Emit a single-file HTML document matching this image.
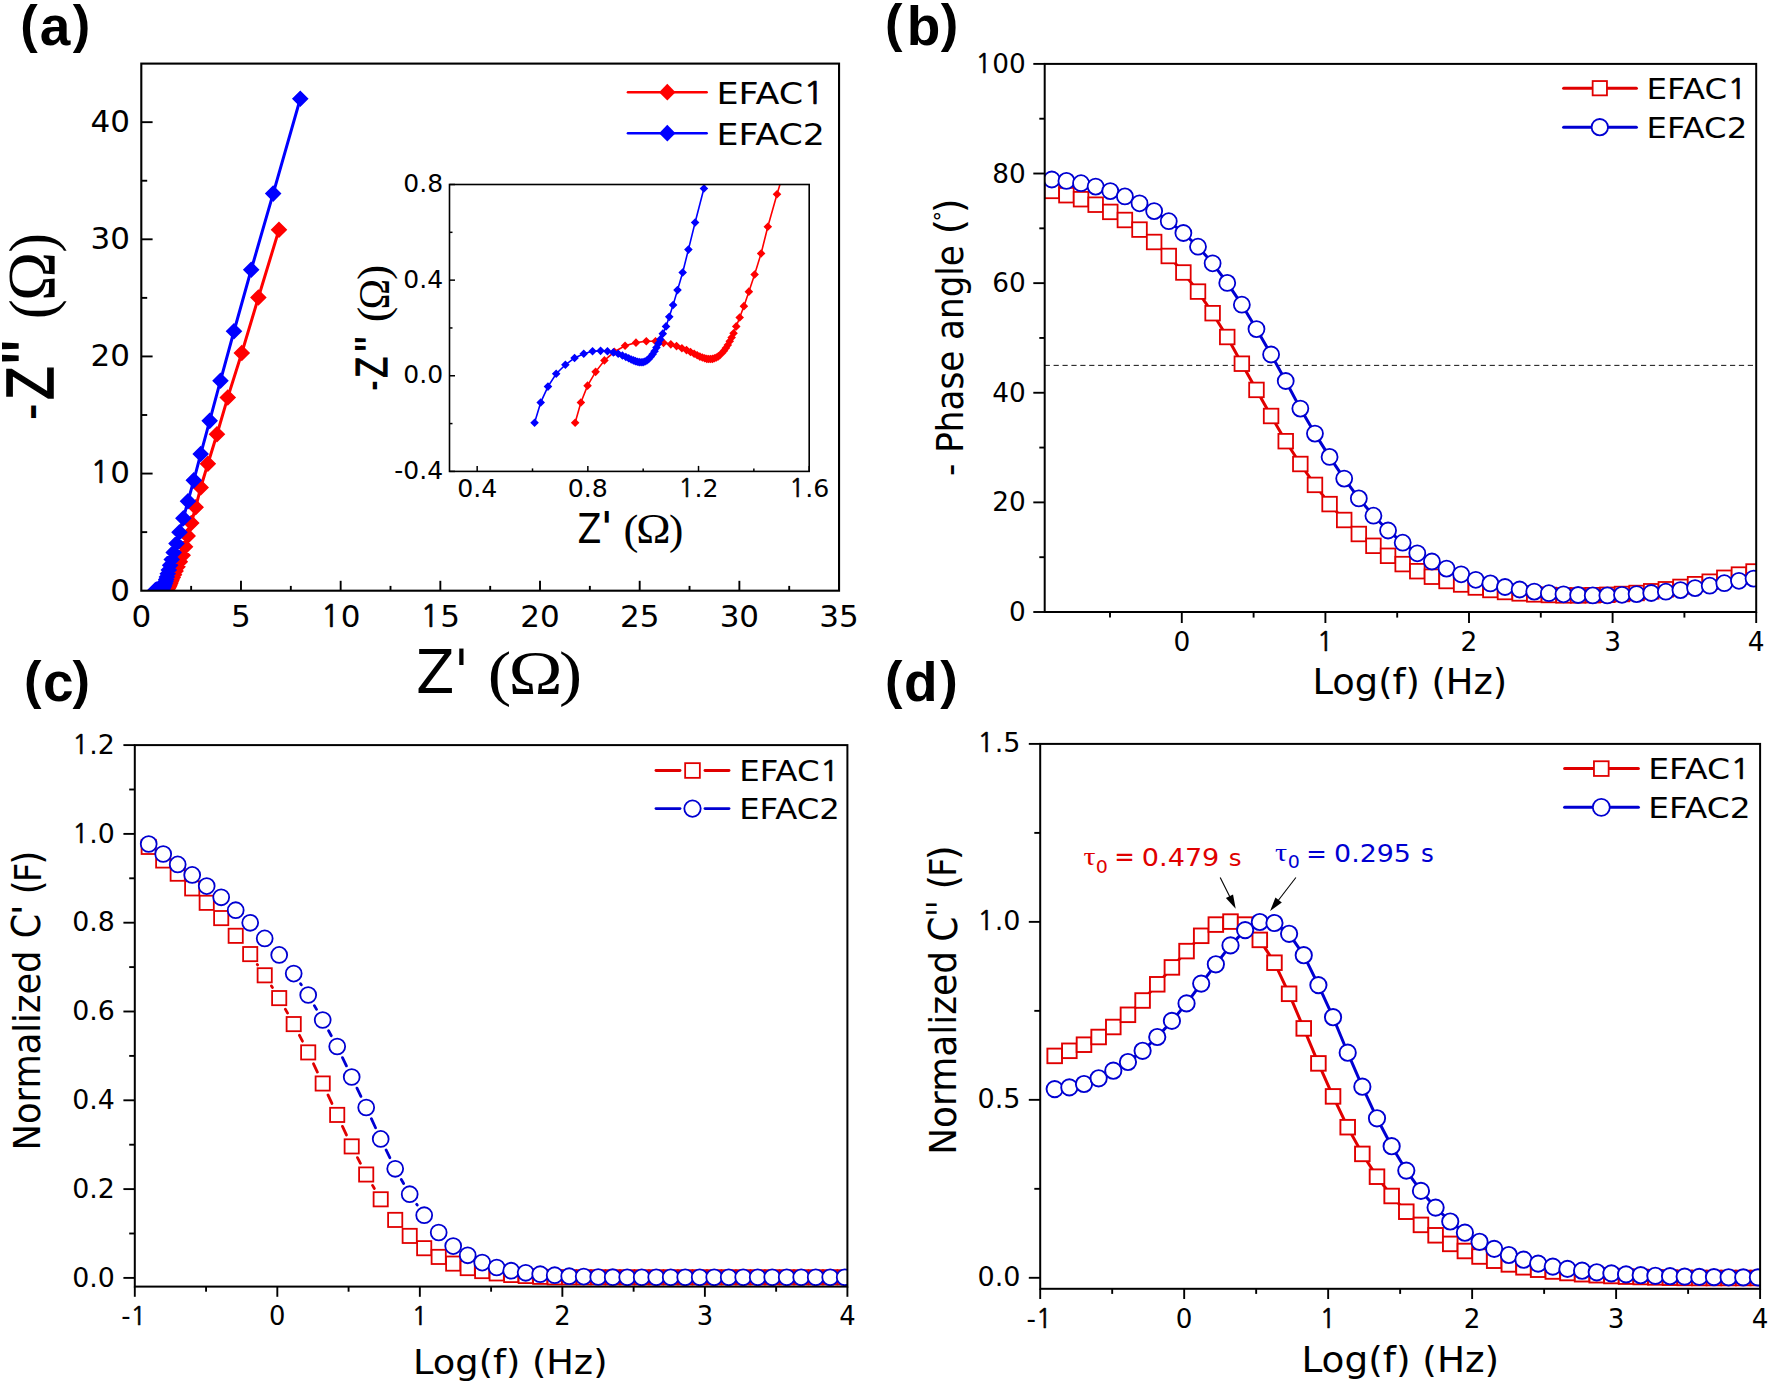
<!DOCTYPE html>
<html lang="en"><head><meta charset="utf-8"><title>EIS analysis of EFAC1 and EFAC2</title>
<style>html,body{margin:0;padding:0;background:#fff}svg{display:block}</style></head>
<body>
<svg width="1770" height="1386" viewBox="0 0 1770 1386" role="img" aria-label="Electrochemical impedance analysis of EFAC1 and EFAC2">
<rect width="1770" height="1386" fill="#fff"/>
<defs><clipPath id="ca"><rect x="141.3" y="63.6" width="697.75" height="527.1"/></clipPath><clipPath id="ci"><rect x="449.5" y="184.5" width="359.7" height="286.9"/></clipPath><clipPath id="cb"><rect x="1044.7" y="63.9" width="711.5" height="548.1"/></clipPath><clipPath id="cc"><rect x="134.8" y="745.1" width="712.6" height="541.5"/></clipPath><clipPath id="cd"><rect x="1040.2" y="743.9" width="719.9" height="544.9"/></clipPath></defs>
<!-- panel a -->
<g clip-path="url(#ca)">
<polyline fill="none" stroke="#ff0000" stroke-width="3" stroke-linejoin="round"  points="156.33,593 156.75,592.01 157.23,591.18 157.81,590.51 158.44,589.95 159.16,589.53 159.93,589.23 160.72,589.08 161.46,589.01 162.12,589.01 162.7,589.09 163.23,589.16 163.64,589.25 164.03,589.35 164.36,589.44 164.65,589.54 164.91,589.62 165.13,589.69 165.32,589.76 165.5,589.81 165.67,589.84 165.82,589.87 165.96,589.88 166.09,589.88 166.23,589.87 166.37,589.84 166.51,589.81 166.64,589.75 166.78,589.68 166.92,589.58 167.06,589.47 167.2,589.34 167.33,589.19 167.47,589.01 167.61,588.82 167.75,588.62 167.94,588.28 168.19,587.84 168.49,587.29 168.85,586.58 169.26,585.74 169.73,584.71 170.22,583.4 170.88,581.81 171.74,579.87 172.8,577.5 174.08,574.63 175.64,571.12 177.54,566.86 179.86,561.66 182.69,555.33 185.1,546.78 187.69,535.88 191.3,523 195.68,507.3 200.69,487.51 207.89,463.73 216.98,434.21 227.78,397.43 241.78,353.04 258.38,297.52 278.98,229.81"/>
<path d="M148.03 593L156.33 584.7L164.63 593L156.33 601.3ZM148.45 592.01L156.75 583.71L165.05 592.01L156.75 600.31ZM148.93 591.18L157.23 582.88L165.53 591.18L157.23 599.48ZM149.51 590.51L157.81 582.21L166.11 590.51L157.81 598.81ZM150.14 589.95L158.44 581.65L166.74 589.95L158.44 598.25ZM150.86 589.53L159.16 581.23L167.46 589.53L159.16 597.83ZM151.63 589.23L159.93 580.93L168.23 589.23L159.93 597.53ZM152.42 589.08L160.72 580.78L169.02 589.08L160.72 597.38ZM153.16 589.01L161.46 580.71L169.76 589.01L161.46 597.31ZM153.82 589.01L162.12 580.71L170.42 589.01L162.12 597.31ZM154.4 589.09L162.7 580.79L171 589.09L162.7 597.39ZM154.93 589.16L163.23 580.86L171.53 589.16L163.23 597.46ZM155.34 589.25L163.64 580.95L171.94 589.25L163.64 597.55ZM155.73 589.35L164.03 581.05L172.33 589.35L164.03 597.65ZM156.06 589.44L164.36 581.14L172.66 589.44L164.36 597.74ZM156.35 589.54L164.65 581.24L172.95 589.54L164.65 597.84ZM156.61 589.62L164.91 581.32L173.21 589.62L164.91 597.92ZM156.83 589.69L165.13 581.39L173.43 589.69L165.13 597.99ZM157.02 589.76L165.32 581.46L173.62 589.76L165.32 598.06ZM157.2 589.81L165.5 581.51L173.8 589.81L165.5 598.11ZM157.37 589.84L165.67 581.54L173.97 589.84L165.67 598.14ZM157.52 589.87L165.82 581.57L174.12 589.87L165.82 598.17ZM157.66 589.88L165.96 581.58L174.26 589.88L165.96 598.18ZM157.79 589.88L166.09 581.58L174.39 589.88L166.09 598.18ZM157.93 589.87L166.23 581.57L174.53 589.87L166.23 598.17ZM158.07 589.84L166.37 581.54L174.67 589.84L166.37 598.14ZM158.21 589.81L166.51 581.51L174.81 589.81L166.51 598.11ZM158.34 589.75L166.64 581.45L174.94 589.75L166.64 598.05ZM158.48 589.68L166.78 581.38L175.08 589.68L166.78 597.98ZM158.62 589.58L166.92 581.28L175.22 589.58L166.92 597.88ZM158.76 589.47L167.06 581.17L175.36 589.47L167.06 597.77ZM158.9 589.34L167.2 581.04L175.5 589.34L167.2 597.64ZM159.03 589.19L167.33 580.89L175.63 589.19L167.33 597.49ZM159.17 589.01L167.47 580.71L175.77 589.01L167.47 597.31ZM159.31 588.82L167.61 580.52L175.91 588.82L167.61 597.12ZM159.45 588.62L167.75 580.32L176.05 588.62L167.75 596.92ZM159.64 588.28L167.94 579.98L176.24 588.28L167.94 596.58ZM159.89 587.84L168.19 579.54L176.49 587.84L168.19 596.14ZM160.19 587.29L168.49 578.99L176.79 587.29L168.49 595.59ZM160.55 586.58L168.85 578.28L177.15 586.58L168.85 594.88ZM160.96 585.74L169.26 577.44L177.56 585.74L169.26 594.04ZM161.43 584.71L169.73 576.41L178.03 584.71L169.73 593.01ZM161.92 583.4L170.22 575.1L178.52 583.4L170.22 591.7ZM162.58 581.81L170.88 573.51L179.18 581.81L170.88 590.11ZM163.44 579.87L171.74 571.57L180.04 579.87L171.74 588.17ZM164.5 577.5L172.8 569.2L181.1 577.5L172.8 585.8ZM165.78 574.63L174.08 566.33L182.38 574.63L174.08 582.93ZM167.34 571.12L175.64 562.82L183.94 571.12L175.64 579.42ZM169.24 566.86L177.54 558.56L185.84 566.86L177.54 575.16ZM171.56 561.66L179.86 553.36L188.16 561.66L179.86 569.96ZM174.39 555.33L182.69 547.03L190.99 555.33L182.69 563.63ZM176.8 546.78L185.1 538.48L193.4 546.78L185.1 555.08ZM179.39 535.88L187.69 527.58L195.99 535.88L187.69 544.18ZM183 523L191.3 514.7L199.6 523L191.3 531.3ZM187.38 507.3L195.68 499L203.98 507.3L195.68 515.6ZM192.39 487.51L200.69 479.21L208.99 487.51L200.69 495.81ZM199.59 463.73L207.89 455.43L216.19 463.73L207.89 472.03ZM208.68 434.21L216.98 425.91L225.28 434.21L216.98 442.51ZM219.48 397.43L227.78 389.13L236.08 397.43L227.78 405.73ZM233.48 353.04L241.78 344.74L250.08 353.04L241.78 361.34ZM250.08 297.52L258.38 289.22L266.68 297.52L258.38 305.82ZM270.68 229.81L278.98 221.51L287.28 229.81L278.98 238.11Z" fill="#ff0000"/>
<polyline fill="none" stroke="#0000ff" stroke-width="3" stroke-linejoin="round"  points="153.41,593 153.85,592.01 154.38,591.23 154.97,590.6 155.63,590.16 156.29,589.83 156.95,589.62 157.59,589.5 158.17,589.48 158.66,589.5 159.09,589.55 159.43,589.62 159.74,589.7 159.99,589.78 160.19,589.84 160.37,589.9 160.54,589.95 160.68,589.99 160.81,590.01 160.95,590.03 161.09,590.04 161.23,590.03 161.36,590 161.5,589.95 161.64,589.87 161.78,589.77 161.92,589.65 162.05,589.5 162.19,589.32 162.33,589.12 162.47,588.92 162.65,588.64 162.88,588.28 163.12,587.81 163.39,587.23 163.71,586.5 164.08,585.64 164.49,584.52 164.98,583.19 165.61,581.52 166.19,579.45 166.89,576.9 167.76,573.77 168.83,569.94 170.13,565.24 171.73,559.47 173.7,552.4 176.49,543.5 179.5,532.25 183.38,518.19 187.99,501.21 193.79,480.36 200.69,454.01 209.68,420.86 220.48,380.68 233.98,331.25 251.19,269.75 273.17,193.62 300.27,98.74"/>
<path d="M145.11 593L153.41 584.7L161.71 593L153.41 601.3ZM145.55 592.01L153.85 583.71L162.15 592.01L153.85 600.31ZM146.08 591.23L154.38 582.93L162.68 591.23L154.38 599.53ZM146.67 590.6L154.97 582.3L163.27 590.6L154.97 598.9ZM147.33 590.16L155.63 581.86L163.93 590.16L155.63 598.46ZM147.99 589.83L156.29 581.53L164.59 589.83L156.29 598.13ZM148.65 589.62L156.95 581.32L165.25 589.62L156.95 597.92ZM149.29 589.5L157.59 581.2L165.89 589.5L157.59 597.8ZM149.87 589.48L158.17 581.18L166.47 589.48L158.17 597.78ZM150.36 589.5L158.66 581.2L166.96 589.5L158.66 597.8ZM150.79 589.55L159.09 581.25L167.39 589.55L159.09 597.85ZM151.13 589.62L159.43 581.32L167.73 589.62L159.43 597.92ZM151.44 589.7L159.74 581.4L168.04 589.7L159.74 598ZM151.69 589.78L159.99 581.48L168.29 589.78L159.99 598.08ZM151.89 589.84L160.19 581.54L168.49 589.84L160.19 598.14ZM152.07 589.9L160.37 581.6L168.67 589.9L160.37 598.2ZM152.24 589.95L160.54 581.65L168.84 589.95L160.54 598.25ZM152.38 589.99L160.68 581.69L168.98 589.99L160.68 598.29ZM152.51 590.01L160.81 581.71L169.11 590.01L160.81 598.31ZM152.65 590.03L160.95 581.73L169.25 590.03L160.95 598.33ZM152.79 590.04L161.09 581.74L169.39 590.04L161.09 598.34ZM152.93 590.03L161.23 581.73L169.53 590.03L161.23 598.33ZM153.06 590L161.36 581.7L169.66 590L161.36 598.3ZM153.2 589.95L161.5 581.65L169.8 589.95L161.5 598.25ZM153.34 589.87L161.64 581.57L169.94 589.87L161.64 598.17ZM153.48 589.77L161.78 581.47L170.08 589.77L161.78 598.07ZM153.62 589.65L161.92 581.35L170.22 589.65L161.92 597.95ZM153.75 589.5L162.05 581.2L170.35 589.5L162.05 597.8ZM153.89 589.32L162.19 581.02L170.49 589.32L162.19 597.62ZM154.03 589.12L162.33 580.82L170.63 589.12L162.33 597.42ZM154.17 588.92L162.47 580.62L170.77 588.92L162.47 597.22ZM154.35 588.64L162.65 580.34L170.95 588.64L162.65 596.94ZM154.58 588.28L162.88 579.98L171.18 588.28L162.88 596.58ZM154.82 587.81L163.12 579.51L171.42 587.81L163.12 596.11ZM155.09 587.23L163.39 578.93L171.69 587.23L163.39 595.53ZM155.41 586.5L163.71 578.2L172.01 586.5L163.71 594.8ZM155.78 585.64L164.08 577.34L172.38 585.64L164.08 593.94ZM156.19 584.52L164.49 576.22L172.79 584.52L164.49 592.82ZM156.68 583.19L164.98 574.89L173.28 583.19L164.98 591.49ZM157.31 581.52L165.61 573.22L173.91 581.52L165.61 589.82ZM157.89 579.45L166.19 571.15L174.49 579.45L166.19 587.75ZM158.59 576.9L166.89 568.6L175.19 576.9L166.89 585.2ZM159.46 573.77L167.76 565.47L176.06 573.77L167.76 582.07ZM160.53 569.94L168.83 561.64L177.13 569.94L168.83 578.24ZM161.83 565.24L170.13 556.94L178.43 565.24L170.13 573.54ZM163.43 559.47L171.73 551.17L180.03 559.47L171.73 567.77ZM165.4 552.4L173.7 544.1L182 552.4L173.7 560.7ZM168.19 543.5L176.49 535.2L184.79 543.5L176.49 551.8ZM171.2 532.25L179.5 523.95L187.8 532.25L179.5 540.55ZM175.08 518.19L183.38 509.89L191.68 518.19L183.38 526.49ZM179.69 501.21L187.99 492.91L196.29 501.21L187.99 509.51ZM185.49 480.36L193.79 472.06L202.09 480.36L193.79 488.66ZM192.39 454.01L200.69 445.71L208.99 454.01L200.69 462.31ZM201.38 420.86L209.68 412.56L217.98 420.86L209.68 429.16ZM212.18 380.68L220.48 372.38L228.78 380.68L220.48 388.98ZM225.68 331.25L233.98 322.95L242.28 331.25L233.98 339.55ZM242.89 269.75L251.19 261.45L259.49 269.75L251.19 278.05ZM264.87 193.62L273.17 185.32L281.47 193.62L273.17 201.92ZM291.97 98.74L300.27 90.44L308.57 98.74L300.27 107.04Z" fill="#0000ff"/>
</g>
<line x1="240.98" y1="590.7" x2="240.98" y2="580.8" stroke="#000" stroke-width="1.9" />
<line x1="340.66" y1="590.7" x2="340.66" y2="580.8" stroke="#000" stroke-width="1.9" />
<line x1="440.34" y1="590.7" x2="440.34" y2="580.8" stroke="#000" stroke-width="1.9" />
<line x1="540.01" y1="590.7" x2="540.01" y2="580.8" stroke="#000" stroke-width="1.9" />
<line x1="639.69" y1="590.7" x2="639.69" y2="580.8" stroke="#000" stroke-width="1.9" />
<line x1="739.37" y1="590.7" x2="739.37" y2="580.8" stroke="#000" stroke-width="1.9" />
<line x1="191.14" y1="590.7" x2="191.14" y2="585.9" stroke="#000" stroke-width="1.9" />
<line x1="290.82" y1="590.7" x2="290.82" y2="585.9" stroke="#000" stroke-width="1.9" />
<line x1="390.5" y1="590.7" x2="390.5" y2="585.9" stroke="#000" stroke-width="1.9" />
<line x1="490.18" y1="590.7" x2="490.18" y2="585.9" stroke="#000" stroke-width="1.9" />
<line x1="589.85" y1="590.7" x2="589.85" y2="585.9" stroke="#000" stroke-width="1.9" />
<line x1="689.53" y1="590.7" x2="689.53" y2="585.9" stroke="#000" stroke-width="1.9" />
<line x1="789.21" y1="590.7" x2="789.21" y2="585.9" stroke="#000" stroke-width="1.9" />
<line x1="141.3" y1="473.57" x2="152.6" y2="473.57" stroke="#000" stroke-width="1.9" />
<line x1="141.3" y1="356.43" x2="152.6" y2="356.43" stroke="#000" stroke-width="1.9" />
<line x1="141.3" y1="239.3" x2="152.6" y2="239.3" stroke="#000" stroke-width="1.9" />
<line x1="141.3" y1="122.17" x2="152.6" y2="122.17" stroke="#000" stroke-width="1.9" />
<line x1="141.3" y1="532.13" x2="147.2" y2="532.13" stroke="#000" stroke-width="1.9" />
<line x1="141.3" y1="415" x2="147.2" y2="415" stroke="#000" stroke-width="1.9" />
<line x1="141.3" y1="297.87" x2="147.2" y2="297.87" stroke="#000" stroke-width="1.9" />
<line x1="141.3" y1="180.73" x2="147.2" y2="180.73" stroke="#000" stroke-width="1.9" />
<rect x="141.3" y="63.6" width="697.75" height="527.1" fill="none" stroke="#000" stroke-width="2.1"/>
<text y="626.8" font-family='"DejaVu Sans", "Liberation Sans", sans-serif' font-size="31" fill="#000"><tspan x="131.44">0</tspan></text>
<text y="626.8" font-family='"DejaVu Sans", "Liberation Sans", sans-serif' font-size="31" fill="#000"><tspan x="231.12">5</tspan></text>
<text y="626.8" font-family='"DejaVu Sans", "Liberation Sans", sans-serif' font-size="31" fill="#000"><tspan font-family="NanumGothic, &quot;DejaVu Sans&quot;, sans-serif" stroke="#000" stroke-width="0.022em" x="320.94">1</tspan><tspan x="340.66">0</tspan></text>
<text y="626.8" font-family='"DejaVu Sans", "Liberation Sans", sans-serif' font-size="31" fill="#000"><tspan font-family="NanumGothic, &quot;DejaVu Sans&quot;, sans-serif" stroke="#000" stroke-width="0.022em" x="420.62">1</tspan><tspan x="440.34">5</tspan></text>
<text y="626.8" font-family='"DejaVu Sans", "Liberation Sans", sans-serif' font-size="31" fill="#000"><tspan x="520.3">2</tspan><tspan x="540.01">0</tspan></text>
<text y="626.8" font-family='"DejaVu Sans", "Liberation Sans", sans-serif' font-size="31" fill="#000"><tspan x="619.98">2</tspan><tspan x="639.69">5</tspan></text>
<text y="626.8" font-family='"DejaVu Sans", "Liberation Sans", sans-serif' font-size="31" fill="#000"><tspan x="719.66">3</tspan><tspan x="739.37">0</tspan></text>
<text y="626.8" font-family='"DejaVu Sans", "Liberation Sans", sans-serif' font-size="31" fill="#000"><tspan x="819.33">3</tspan><tspan x="839.05">5</tspan></text>
<text y="600.6" font-family='"DejaVu Sans", "Liberation Sans", sans-serif' font-size="31" fill="#000"><tspan x="110.18">0</tspan></text>
<text y="483.47" font-family='"DejaVu Sans", "Liberation Sans", sans-serif' font-size="31" fill="#000"><tspan font-family="NanumGothic, &quot;DejaVu Sans&quot;, sans-serif" stroke="#000" stroke-width="0.022em" x="90.47">1</tspan><tspan x="110.18">0</tspan></text>
<text y="366.33" font-family='"DejaVu Sans", "Liberation Sans", sans-serif' font-size="31" fill="#000"><tspan x="90.47">2</tspan><tspan x="110.18">0</tspan></text>
<text y="249.2" font-family='"DejaVu Sans", "Liberation Sans", sans-serif' font-size="31" fill="#000"><tspan x="90.47">3</tspan><tspan x="110.18">0</tspan></text>
<text y="132.07" font-family='"DejaVu Sans", "Liberation Sans", sans-serif' font-size="31" fill="#000"><tspan x="90.47">4</tspan><tspan x="110.18">0</tspan></text>
<line x1="628" y1="92.2" x2="706.6" y2="92.2" stroke="#ff0000" stroke-width="2.6" stroke-linecap="round"/>
<path d="M659.1 92.2L667.3 83.8L675.5 92.2L667.3 100.6Z" fill="#ff0000"/>
<text transform="translate(716.5 103.6) scale(1.1364 1)" font-family='"DejaVu Sans", "Liberation Sans", sans-serif' font-size="30.8" fill="#000" xml:space="preserve">EFAC<tspan font-family="NanumGothic, &quot;DejaVu Sans&quot;, sans-serif" stroke="#000" stroke-width="0.022em">1</tspan></text>
<line x1="628" y1="133.2" x2="706.6" y2="133.2" stroke="#0000ff" stroke-width="2.6" stroke-linecap="round"/>
<path d="M659.1 133.2L667.3 124.8L675.5 133.2L667.3 141.6Z" fill="#0000ff"/>
<text transform="translate(716.52 144.7) scale(1.1294 1)" font-family='"DejaVu Sans", "Liberation Sans", sans-serif' font-size="30.8" fill="#000" xml:space="preserve">EFAC2</text>
<text transform="translate(416.07 693.4) scale(0.9294 1)" font-family='"DejaVu Sans", "Liberation Sans", sans-serif' font-size="60.4" fill="#000" xml:space="preserve">Z</text>
<text transform="translate(454.28 692.6) scale(0.8570 1)" font-family='"DejaVu Sans", "Liberation Sans", sans-serif' font-size="60.4" fill="#000" xml:space="preserve">'</text>
<text transform="translate(487.82 694.2) scale(1.1478 1)" font-family='"Liberation Serif", "DejaVu Serif", serif' font-size="61.5" fill="#000" xml:space="preserve">(</text>
<text transform="translate(508.56 693.4) scale(1.1801 1)" font-family='"Liberation Serif", "DejaVu Serif", serif' font-size="61.7" fill="#000" xml:space="preserve">Ω</text>
<text transform="translate(558.92 694.2) scale(1.1257 1)" font-family='"Liberation Serif", "DejaVu Serif", serif' font-size="61.5" fill="#000" xml:space="preserve">)</text>
<text transform="translate(43.8 419.98) rotate(-90) scale(1.2052 1)" font-family='"Liberation Sans", "DejaVu Sans", sans-serif' font-size="41" fill="#000" font-weight="bold"  xml:space="preserve">-</text>
<text transform="translate(52.6 399.64) rotate(-90) scale(0.8141 1)" font-family='"Liberation Sans", "DejaVu Sans", sans-serif' font-size="67" fill="#000" stroke="#000" stroke-width="1.6" stroke-linejoin="miter" xml:space="preserve">Z</text>
<text transform="translate(48.2 364.19) rotate(-90) scale(0.7699 1)" font-family='"Liberation Sans", "DejaVu Sans", sans-serif' font-size="66" fill="#000" font-weight="bold"  xml:space="preserve">''</text>
<text transform="translate(52.6 318.95) rotate(-90) scale(0.9163 1)" font-family='"Liberation Serif", "DejaVu Serif", serif' font-size="64.2" fill="#000"  xml:space="preserve">(</text>
<text transform="translate(54.4 300.9) rotate(-90) scale(0.9720 1)" font-family='"Liberation Serif", "DejaVu Serif", serif' font-size="68" fill="#000"  xml:space="preserve">Ω</text>
<text transform="translate(52.6 252.44) rotate(-90) scale(0.9046 1)" font-family='"Liberation Serif", "DejaVu Serif", serif' font-size="64.2" fill="#000"  xml:space="preserve">)</text>
<text x="20.27" y="41.6" font-family='"Liberation Sans", "DejaVu Sans", sans-serif' font-size="52.5" text-anchor="start" fill="#000" font-weight="bold" >(</text>
<text x="39.85" y="45" font-family='"Liberation Sans", "DejaVu Sans", sans-serif' font-size="55" text-anchor="start" fill="#000" font-weight="bold" >a</text>
<text x="72.64" y="41.6" font-family='"Liberation Sans", "DejaVu Sans", sans-serif' font-size="52.5" text-anchor="start" fill="#000" font-weight="bold" >)</text>
<g clip-path="url(#ci)">
<polyline fill="none" stroke="#ff0000" stroke-width="1.6" stroke-linejoin="round"  points="575.14,422.69 580.88,402.44 587.57,385.63 595.61,371.87 604.41,360.41 614.36,351.81 625.08,345.7 635.98,342.64 646.31,341.31 655.5,341.31 663.53,342.83 670.81,344.36 676.55,346.08 681.9,348.18 686.5,350.09 690.51,352 694.15,353.72 697.21,355.25 699.89,356.59 702.38,357.54 704.67,358.31 706.78,358.88 708.69,359.07 710.6,359.07 712.52,358.88 714.43,358.31 716.34,357.54 718.26,356.4 720.17,354.87 722.08,352.96 724,350.67 725.91,347.99 727.82,344.94 729.74,341.31 731.65,337.49 733.56,333.28 736.24,326.41 739.69,317.43 743.9,306.16 748.87,291.64 754.61,274.44 761.12,253.43 767.81,226.69 777,194.21 789,154.63 803.62,106.42 821.43,47.7"/>
<path d="M570.84 422.69L575.14 418.39L579.44 422.69L575.14 426.99ZM576.58 402.44L580.88 398.14L585.18 402.44L580.88 406.74ZM583.27 385.63L587.57 381.33L591.87 385.63L587.57 389.93ZM591.31 371.87L595.61 367.57L599.91 371.87L595.61 376.17ZM600.11 360.41L604.41 356.11L608.71 360.41L604.41 364.71ZM610.06 351.81L614.36 347.51L618.66 351.81L614.36 356.11ZM620.78 345.7L625.08 341.4L629.38 345.7L625.08 350ZM631.68 342.64L635.98 338.34L640.28 342.64L635.98 346.94ZM642.01 341.31L646.31 337.01L650.61 341.31L646.31 345.61ZM651.2 341.31L655.5 337.01L659.8 341.31L655.5 345.61ZM659.23 342.83L663.53 338.53L667.83 342.83L663.53 347.13ZM666.51 344.36L670.81 340.06L675.11 344.36L670.81 348.66ZM672.25 346.08L676.55 341.78L680.85 346.08L676.55 350.38ZM677.6 348.18L681.9 343.88L686.2 348.18L681.9 352.48ZM682.2 350.09L686.5 345.79L690.8 350.09L686.5 354.39ZM686.21 352L690.51 347.7L694.81 352L690.51 356.3ZM689.85 353.72L694.15 349.42L698.45 353.72L694.15 358.02ZM692.91 355.25L697.21 350.95L701.51 355.25L697.21 359.55ZM695.59 356.59L699.89 352.29L704.19 356.59L699.89 360.89ZM698.08 357.54L702.38 353.24L706.68 357.54L702.38 361.84ZM700.37 358.31L704.67 354.01L708.97 358.31L704.67 362.61ZM702.48 358.88L706.78 354.58L711.08 358.88L706.78 363.18ZM704.39 359.07L708.69 354.77L712.99 359.07L708.69 363.37ZM706.3 359.07L710.6 354.77L714.9 359.07L710.6 363.37ZM708.22 358.88L712.52 354.58L716.82 358.88L712.52 363.18ZM710.13 358.31L714.43 354.01L718.73 358.31L714.43 362.61ZM712.04 357.54L716.34 353.24L720.64 357.54L716.34 361.84ZM713.96 356.4L718.26 352.1L722.56 356.4L718.26 360.7ZM715.87 354.87L720.17 350.57L724.47 354.87L720.17 359.17ZM717.78 352.96L722.08 348.66L726.38 352.96L722.08 357.26ZM719.7 350.67L724 346.37L728.3 350.67L724 354.97ZM721.61 347.99L725.91 343.69L730.21 347.99L725.91 352.29ZM723.52 344.94L727.82 340.64L732.12 344.94L727.82 349.24ZM725.44 341.31L729.74 337.01L734.04 341.31L729.74 345.61ZM727.35 337.49L731.65 333.19L735.95 337.49L731.65 341.79ZM729.26 333.28L733.56 328.98L737.86 333.28L733.56 337.58ZM731.94 326.41L736.24 322.11L740.54 326.41L736.24 330.71ZM735.39 317.43L739.69 313.13L743.99 317.43L739.69 321.73ZM739.6 306.16L743.9 301.86L748.2 306.16L743.9 310.46ZM744.57 291.64L748.87 287.34L753.17 291.64L748.87 295.94ZM750.31 274.44L754.61 270.14L758.91 274.44L754.61 278.74ZM756.82 253.43L761.12 249.13L765.42 253.43L761.12 257.73ZM763.51 226.69L767.81 222.39L772.11 226.69L767.81 230.99ZM772.7 194.21L777 189.91L781.3 194.21L777 198.51ZM784.7 154.63L789 150.33L793.3 154.63L789 158.93ZM799.32 106.42L803.62 102.12L807.92 106.42L803.62 110.72ZM817.13 47.7L821.43 43.4L825.73 47.7L821.43 52Z" fill="#ff0000"/>
<polyline fill="none" stroke="#0000ff" stroke-width="1.6" stroke-linejoin="round"  points="534.57,422.69 540.7,402.44 547.97,386.58 556.19,373.78 565.38,364.8 574.56,357.93 583.75,353.72 592.55,351.24 600.58,350.86 607.47,351.24 613.4,352.39 618.19,353.72 622.4,355.44 625.84,356.97 628.71,358.31 631.2,359.45 633.49,360.41 635.41,361.17 637.32,361.75 639.23,362.13 641.15,362.32 643.06,362.13 644.97,361.56 646.89,360.41 648.8,358.88 650.71,356.78 652.63,354.3 654.54,351.24 656.46,347.61 658.37,343.6 660.28,339.4 662.77,333.66 666.02,326.41 669.27,316.85 673.1,305.01 677.5,290.11 682.67,272.53 688.41,249.61 695.11,222.48 703.91,188.48 711.91,146.07 721.73,94.05 733.77,30.25"/>
<path d="M530.27 422.69L534.57 418.39L538.87 422.69L534.57 426.99ZM536.4 402.44L540.7 398.14L545 402.44L540.7 406.74ZM543.67 386.58L547.97 382.28L552.27 386.58L547.97 390.88ZM551.89 373.78L556.19 369.48L560.49 373.78L556.19 378.08ZM561.08 364.8L565.38 360.5L569.68 364.8L565.38 369.1ZM570.26 357.93L574.56 353.63L578.86 357.93L574.56 362.23ZM579.45 353.72L583.75 349.42L588.05 353.72L583.75 358.02ZM588.25 351.24L592.55 346.94L596.85 351.24L592.55 355.54ZM596.28 350.86L600.58 346.56L604.88 350.86L600.58 355.16ZM603.17 351.24L607.47 346.94L611.77 351.24L607.47 355.54ZM609.1 352.39L613.4 348.09L617.7 352.39L613.4 356.69ZM613.89 353.72L618.19 349.42L622.49 353.72L618.19 358.02ZM618.1 355.44L622.4 351.14L626.7 355.44L622.4 359.74ZM621.54 356.97L625.84 352.67L630.14 356.97L625.84 361.27ZM624.41 358.31L628.71 354.01L633.01 358.31L628.71 362.61ZM626.9 359.45L631.2 355.15L635.5 359.45L631.2 363.75ZM629.19 360.41L633.49 356.11L637.79 360.41L633.49 364.71ZM631.11 361.17L635.41 356.87L639.71 361.17L635.41 365.47ZM633.02 361.75L637.32 357.45L641.62 361.75L637.32 366.05ZM634.93 362.13L639.23 357.83L643.53 362.13L639.23 366.43ZM636.85 362.32L641.15 358.02L645.45 362.32L641.15 366.62ZM638.76 362.13L643.06 357.83L647.36 362.13L643.06 366.43ZM640.67 361.56L644.97 357.26L649.27 361.56L644.97 365.86ZM642.59 360.41L646.89 356.11L651.19 360.41L646.89 364.71ZM644.5 358.88L648.8 354.58L653.1 358.88L648.8 363.18ZM646.41 356.78L650.71 352.48L655.01 356.78L650.71 361.08ZM648.33 354.3L652.63 350L656.93 354.3L652.63 358.6ZM650.24 351.24L654.54 346.94L658.84 351.24L654.54 355.54ZM652.16 347.61L656.46 343.31L660.76 347.61L656.46 351.91ZM654.07 343.6L658.37 339.3L662.67 343.6L658.37 347.9ZM655.98 339.4L660.28 335.1L664.58 339.4L660.28 343.7ZM658.47 333.66L662.77 329.36L667.07 333.66L662.77 337.96ZM661.72 326.41L666.02 322.11L670.32 326.41L666.02 330.71ZM664.97 316.85L669.27 312.55L673.57 316.85L669.27 321.15ZM668.8 305.01L673.1 300.71L677.4 305.01L673.1 309.31ZM673.2 290.11L677.5 285.81L681.8 290.11L677.5 294.41ZM678.37 272.53L682.67 268.23L686.97 272.53L682.67 276.83ZM684.11 249.61L688.41 245.31L692.71 249.61L688.41 253.91ZM690.81 222.48L695.11 218.18L699.41 222.48L695.11 226.78ZM699.61 188.48L703.91 184.18L708.21 188.48L703.91 192.78ZM707.61 146.07L711.91 141.77L716.21 146.07L711.91 150.37ZM717.43 94.05L721.73 89.75L726.03 94.05L721.73 98.35ZM729.47 30.25L733.77 25.95L738.07 30.25L733.77 34.55Z" fill="#0000ff"/>
</g>
<line x1="477.17" y1="471.4" x2="477.17" y2="465.9" stroke="#000" stroke-width="1.5" />
<line x1="587.85" y1="471.4" x2="587.85" y2="465.9" stroke="#000" stroke-width="1.5" />
<line x1="698.52" y1="471.4" x2="698.52" y2="465.9" stroke="#000" stroke-width="1.5" />
<line x1="809.2" y1="471.4" x2="809.2" y2="465.9" stroke="#000" stroke-width="1.5" />
<line x1="532.51" y1="471.4" x2="532.51" y2="468.4" stroke="#000" stroke-width="1.5" />
<line x1="643.18" y1="471.4" x2="643.18" y2="468.4" stroke="#000" stroke-width="1.5" />
<line x1="753.86" y1="471.4" x2="753.86" y2="468.4" stroke="#000" stroke-width="1.5" />
<line x1="449.5" y1="471.4" x2="455" y2="471.4" stroke="#000" stroke-width="1.5" />
<line x1="449.5" y1="375.77" x2="455" y2="375.77" stroke="#000" stroke-width="1.5" />
<line x1="449.5" y1="280.13" x2="455" y2="280.13" stroke="#000" stroke-width="1.5" />
<line x1="449.5" y1="184.5" x2="455" y2="184.5" stroke="#000" stroke-width="1.5" />
<line x1="449.5" y1="423.58" x2="452.5" y2="423.58" stroke="#000" stroke-width="1.5" />
<line x1="449.5" y1="327.95" x2="452.5" y2="327.95" stroke="#000" stroke-width="1.5" />
<line x1="449.5" y1="232.32" x2="452.5" y2="232.32" stroke="#000" stroke-width="1.5" />
<rect x="449.5" y="184.5" width="359.7" height="286.9" fill="none" stroke="#000" stroke-width="1.6"/>
<text y="497" font-family='"DejaVu Sans", "Liberation Sans", sans-serif' font-size="25.2" fill="#000"><tspan x="457.14">0</tspan><tspan x="473.16">.</tspan><tspan x="481.18">4</tspan></text>
<text y="497" font-family='"DejaVu Sans", "Liberation Sans", sans-serif' font-size="25.2" fill="#000"><tspan x="567.81">0</tspan><tspan x="583.84">.</tspan><tspan x="591.85">8</tspan></text>
<text y="497" font-family='"DejaVu Sans", "Liberation Sans", sans-serif' font-size="25.2" fill="#000"><tspan font-family="NanumGothic, &quot;DejaVu Sans&quot;, sans-serif" stroke="#000" stroke-width="0.022em" x="678.49">1</tspan><tspan x="694.52">.</tspan><tspan x="702.53">2</tspan></text>
<text y="497" font-family='"DejaVu Sans", "Liberation Sans", sans-serif' font-size="25.2" fill="#000"><tspan font-family="NanumGothic, &quot;DejaVu Sans&quot;, sans-serif" stroke="#000" stroke-width="0.022em" x="789.17">1</tspan><tspan x="805.19">.</tspan><tspan x="813.21">6</tspan></text>
<text y="479" font-family='"DejaVu Sans", "Liberation Sans", sans-serif' font-size="25" fill="#000"><tspan x="394.33">-</tspan><tspan x="403.35">0</tspan><tspan x="419.25">.</tspan><tspan x="427.2">4</tspan></text>
<text y="383.37" font-family='"DejaVu Sans", "Liberation Sans", sans-serif' font-size="25" fill="#000"><tspan x="403.35">0</tspan><tspan x="419.25">.</tspan><tspan x="427.2">0</tspan></text>
<text y="287.73" font-family='"DejaVu Sans", "Liberation Sans", sans-serif' font-size="25" fill="#000"><tspan x="403.35">0</tspan><tspan x="419.25">.</tspan><tspan x="427.2">4</tspan></text>
<text y="192.1" font-family='"DejaVu Sans", "Liberation Sans", sans-serif' font-size="25" fill="#000"><tspan x="403.35">0</tspan><tspan x="419.25">.</tspan><tspan x="427.2">8</tspan></text>
<text transform="translate(577.43 543.4) scale(0.8739 1)" font-family='"DejaVu Sans", "Liberation Sans", sans-serif' font-size="40" fill="#000" xml:space="preserve">Z</text>
<text transform="translate(600.13 542.4) scale(1.1204 1)" font-family='"DejaVu Sans", "Liberation Sans", sans-serif' font-size="42" fill="#000" xml:space="preserve">'</text>
<text transform="translate(623.59 544) scale(1.0594 1)" font-family='"Liberation Serif", "DejaVu Serif", serif' font-size="42.2" fill="#000" xml:space="preserve">(</text>
<text transform="translate(636.29 543.4) scale(1.1226 1)" font-family='"Liberation Serif", "DejaVu Serif", serif' font-size="41.2" fill="#000" xml:space="preserve">Ω</text>
<text transform="translate(668.91 544) scale(1.0208 1)" font-family='"Liberation Serif", "DejaVu Serif", serif' font-size="42.2" fill="#000" xml:space="preserve">)</text>
<text transform="translate(384.3 390.49) rotate(-90) scale(0.8279 1)" font-family='"Liberation Sans", "DejaVu Sans", sans-serif' font-size="36" fill="#000" font-weight="bold"  xml:space="preserve">-</text>
<text transform="translate(387 377.63) rotate(-90) scale(0.7769 1)" font-family='"Liberation Sans", "DejaVu Sans", sans-serif' font-size="44" fill="#000" stroke="#000" stroke-width="1.1" stroke-linejoin="miter" xml:space="preserve">Z</text>
<text transform="translate(383.6 351.67) rotate(-90) scale(0.7658 1)" font-family='"Liberation Sans", "DejaVu Sans", sans-serif' font-size="42" fill="#000" font-weight="bold"  xml:space="preserve">''</text>
<text transform="translate(388 322.3) rotate(-90) scale(1.0558 1)" font-family='"Liberation Serif", "DejaVu Serif", serif' font-size="44.2" fill="#000"  xml:space="preserve">(</text>
<text transform="translate(389.2 309.55) rotate(-90) scale(0.9132 1)" font-family='"Liberation Serif", "DejaVu Serif", serif' font-size="45" fill="#000"  xml:space="preserve">Ω</text>
<text transform="translate(388 280.07) rotate(-90) scale(1.0355 1)" font-family='"Liberation Serif", "DejaVu Serif", serif' font-size="44.2" fill="#000"  xml:space="preserve">)</text>
<g clip-path="url(#cb)">
<line x1="1044.7" y1="365.36" x2="1756.2" y2="365.36" stroke="#111" stroke-width="1" stroke-dasharray="5.2 3.7"/>
<polyline fill="none" stroke="#e00000" stroke-width="3" stroke-linejoin="round"  points="1051.8,190.9 1066.42,195.2 1081.04,199.2 1095.66,204.7 1110.28,211.9 1124.9,220 1139.52,229.6 1154.14,242 1168.76,256 1183.38,272.5 1198,291.6 1212.62,313.2 1227.24,337 1241.86,363.7 1256.48,389.9 1271.1,416 1285.72,441.2 1300.34,464 1314.96,484.9 1329.58,504.1 1344.2,520 1358.82,534 1373.44,545.8 1388.06,555.8 1402.68,564.1 1417.3,571.2 1431.92,576.7 1446.54,581 1461.16,584.5 1475.78,587.5 1490.4,590 1505.02,592 1519.64,593.4 1534.26,594.4 1548.88,595 1563.5,595.4 1578.12,595.4 1592.74,595.2 1607.36,594.8 1621.98,594 1636.6,593 1651.22,591.3 1665.84,589.3 1680.46,586.9 1695.08,584.2 1709.7,581.7 1724.32,577.8 1738.94,574.6 1753.56,571.5"/>
<g fill="#fff" stroke="#e00000" stroke-width="1.8"><rect x="1044.5" y="183.6" width="14.6" height="14.6"/><rect x="1059.12" y="187.9" width="14.6" height="14.6"/><rect x="1073.74" y="191.9" width="14.6" height="14.6"/><rect x="1088.36" y="197.4" width="14.6" height="14.6"/><rect x="1102.98" y="204.6" width="14.6" height="14.6"/><rect x="1117.6" y="212.7" width="14.6" height="14.6"/><rect x="1132.22" y="222.3" width="14.6" height="14.6"/><rect x="1146.84" y="234.7" width="14.6" height="14.6"/><rect x="1161.46" y="248.7" width="14.6" height="14.6"/><rect x="1176.08" y="265.2" width="14.6" height="14.6"/><rect x="1190.7" y="284.3" width="14.6" height="14.6"/><rect x="1205.32" y="305.9" width="14.6" height="14.6"/><rect x="1219.94" y="329.7" width="14.6" height="14.6"/><rect x="1234.56" y="356.4" width="14.6" height="14.6"/><rect x="1249.18" y="382.6" width="14.6" height="14.6"/><rect x="1263.8" y="408.7" width="14.6" height="14.6"/><rect x="1278.42" y="433.9" width="14.6" height="14.6"/><rect x="1293.04" y="456.7" width="14.6" height="14.6"/><rect x="1307.66" y="477.6" width="14.6" height="14.6"/><rect x="1322.28" y="496.8" width="14.6" height="14.6"/><rect x="1336.9" y="512.7" width="14.6" height="14.6"/><rect x="1351.52" y="526.7" width="14.6" height="14.6"/><rect x="1366.14" y="538.5" width="14.6" height="14.6"/><rect x="1380.76" y="548.5" width="14.6" height="14.6"/><rect x="1395.38" y="556.8" width="14.6" height="14.6"/><rect x="1410" y="563.9" width="14.6" height="14.6"/><rect x="1424.62" y="569.4" width="14.6" height="14.6"/><rect x="1439.24" y="573.7" width="14.6" height="14.6"/><rect x="1453.86" y="577.2" width="14.6" height="14.6"/><rect x="1468.48" y="580.2" width="14.6" height="14.6"/><rect x="1483.1" y="582.7" width="14.6" height="14.6"/><rect x="1497.72" y="584.7" width="14.6" height="14.6"/><rect x="1512.34" y="586.1" width="14.6" height="14.6"/><rect x="1526.96" y="587.1" width="14.6" height="14.6"/><rect x="1541.58" y="587.7" width="14.6" height="14.6"/><rect x="1556.2" y="588.1" width="14.6" height="14.6"/><rect x="1570.82" y="588.1" width="14.6" height="14.6"/><rect x="1585.44" y="587.9" width="14.6" height="14.6"/><rect x="1600.06" y="587.5" width="14.6" height="14.6"/><rect x="1614.68" y="586.7" width="14.6" height="14.6"/><rect x="1629.3" y="585.7" width="14.6" height="14.6"/><rect x="1643.92" y="584" width="14.6" height="14.6"/><rect x="1658.54" y="582" width="14.6" height="14.6"/><rect x="1673.16" y="579.6" width="14.6" height="14.6"/><rect x="1687.78" y="576.9" width="14.6" height="14.6"/><rect x="1702.4" y="574.4" width="14.6" height="14.6"/><rect x="1717.02" y="570.5" width="14.6" height="14.6"/><rect x="1731.64" y="567.3" width="14.6" height="14.6"/><rect x="1746.26" y="564.2" width="14.6" height="14.6"/></g>
<polyline fill="none" stroke="#0000d2" stroke-width="3" stroke-linejoin="round"  points="1051.8,179.5 1066.42,180.9 1081.04,183.2 1095.66,186.6 1110.28,191.1 1124.9,196.4 1139.52,203.3 1154.14,211.1 1168.76,221.2 1183.38,233 1198,246.7 1212.62,263.3 1227.24,282.9 1241.86,304.7 1256.48,329.1 1271.1,354.5 1285.72,381 1300.34,408.6 1314.96,433.6 1329.58,456.9 1344.2,478.6 1358.82,498.4 1373.44,515.7 1388.06,530.5 1402.68,542.7 1417.3,553.3 1431.92,561.5 1446.54,568.6 1461.16,574.3 1475.78,579.8 1490.4,583.4 1505.02,587 1519.64,589.5 1534.26,591.6 1548.88,593.2 1563.5,594.3 1578.12,595 1592.74,595.4 1607.36,595.4 1621.98,594.8 1636.6,594.1 1651.22,593 1665.84,591.7 1680.46,590.1 1695.08,588.1 1709.7,585.7 1724.32,583.2 1738.94,580.8 1753.56,578.6"/>
<g fill="#fff" stroke="#0000d2" stroke-width="1.8"><circle cx="1051.8" cy="179.5" r="8"/><circle cx="1066.42" cy="180.9" r="8"/><circle cx="1081.04" cy="183.2" r="8"/><circle cx="1095.66" cy="186.6" r="8"/><circle cx="1110.28" cy="191.1" r="8"/><circle cx="1124.9" cy="196.4" r="8"/><circle cx="1139.52" cy="203.3" r="8"/><circle cx="1154.14" cy="211.1" r="8"/><circle cx="1168.76" cy="221.2" r="8"/><circle cx="1183.38" cy="233" r="8"/><circle cx="1198" cy="246.7" r="8"/><circle cx="1212.62" cy="263.3" r="8"/><circle cx="1227.24" cy="282.9" r="8"/><circle cx="1241.86" cy="304.7" r="8"/><circle cx="1256.48" cy="329.1" r="8"/><circle cx="1271.1" cy="354.5" r="8"/><circle cx="1285.72" cy="381" r="8"/><circle cx="1300.34" cy="408.6" r="8"/><circle cx="1314.96" cy="433.6" r="8"/><circle cx="1329.58" cy="456.9" r="8"/><circle cx="1344.2" cy="478.6" r="8"/><circle cx="1358.82" cy="498.4" r="8"/><circle cx="1373.44" cy="515.7" r="8"/><circle cx="1388.06" cy="530.5" r="8"/><circle cx="1402.68" cy="542.7" r="8"/><circle cx="1417.3" cy="553.3" r="8"/><circle cx="1431.92" cy="561.5" r="8"/><circle cx="1446.54" cy="568.6" r="8"/><circle cx="1461.16" cy="574.3" r="8"/><circle cx="1475.78" cy="579.8" r="8"/><circle cx="1490.4" cy="583.4" r="8"/><circle cx="1505.02" cy="587" r="8"/><circle cx="1519.64" cy="589.5" r="8"/><circle cx="1534.26" cy="591.6" r="8"/><circle cx="1548.88" cy="593.2" r="8"/><circle cx="1563.5" cy="594.3" r="8"/><circle cx="1578.12" cy="595" r="8"/><circle cx="1592.74" cy="595.4" r="8"/><circle cx="1607.36" cy="595.4" r="8"/><circle cx="1621.98" cy="594.8" r="8"/><circle cx="1636.6" cy="594.1" r="8"/><circle cx="1651.22" cy="593" r="8"/><circle cx="1665.84" cy="591.7" r="8"/><circle cx="1680.46" cy="590.1" r="8"/><circle cx="1695.08" cy="588.1" r="8"/><circle cx="1709.7" cy="585.7" r="8"/><circle cx="1724.32" cy="583.2" r="8"/><circle cx="1738.94" cy="580.8" r="8"/><circle cx="1753.56" cy="578.6" r="8"/></g>
</g>
<!-- panel b -->
<line x1="1181.8" y1="612" x2="1181.8" y2="623" stroke="#000" stroke-width="1.9" />
<line x1="1325.4" y1="612" x2="1325.4" y2="623" stroke="#000" stroke-width="1.9" />
<line x1="1469" y1="612" x2="1469" y2="623" stroke="#000" stroke-width="1.9" />
<line x1="1612.6" y1="612" x2="1612.6" y2="623" stroke="#000" stroke-width="1.9" />
<line x1="1756.2" y1="612" x2="1756.2" y2="623" stroke="#000" stroke-width="1.9" />
<line x1="1110" y1="612" x2="1110" y2="617.6" stroke="#000" stroke-width="1.9" />
<line x1="1253.6" y1="612" x2="1253.6" y2="617.6" stroke="#000" stroke-width="1.9" />
<line x1="1397.2" y1="612" x2="1397.2" y2="617.6" stroke="#000" stroke-width="1.9" />
<line x1="1540.8" y1="612" x2="1540.8" y2="617.6" stroke="#000" stroke-width="1.9" />
<line x1="1684.4" y1="612" x2="1684.4" y2="617.6" stroke="#000" stroke-width="1.9" />
<line x1="1044.7" y1="612" x2="1033.3" y2="612" stroke="#000" stroke-width="1.9" />
<line x1="1044.7" y1="502.38" x2="1033.3" y2="502.38" stroke="#000" stroke-width="1.9" />
<line x1="1044.7" y1="392.76" x2="1033.3" y2="392.76" stroke="#000" stroke-width="1.9" />
<line x1="1044.7" y1="283.14" x2="1033.3" y2="283.14" stroke="#000" stroke-width="1.9" />
<line x1="1044.7" y1="173.52" x2="1033.3" y2="173.52" stroke="#000" stroke-width="1.9" />
<line x1="1044.7" y1="63.9" x2="1033.3" y2="63.9" stroke="#000" stroke-width="1.9" />
<line x1="1044.7" y1="557.19" x2="1039.3" y2="557.19" stroke="#000" stroke-width="1.9" />
<line x1="1044.7" y1="447.57" x2="1039.3" y2="447.57" stroke="#000" stroke-width="1.9" />
<line x1="1044.7" y1="337.95" x2="1039.3" y2="337.95" stroke="#000" stroke-width="1.9" />
<line x1="1044.7" y1="228.33" x2="1039.3" y2="228.33" stroke="#000" stroke-width="1.9" />
<line x1="1044.7" y1="118.71" x2="1039.3" y2="118.71" stroke="#000" stroke-width="1.9" />
<rect x="1044.7" y="63.9" width="711.5" height="548.1" fill="none" stroke="#000" stroke-width="2"/>
<text y="650.6" font-family='"DejaVu Sans", "Liberation Sans", sans-serif' font-size="26.4" fill="#000"><tspan x="1173.4">0</tspan></text>
<text y="650.6" font-family='"DejaVu Sans", "Liberation Sans", sans-serif' font-size="26.4" fill="#000"><tspan font-family="NanumGothic, &quot;DejaVu Sans&quot;, sans-serif" stroke="#000" stroke-width="0.022em" x="1317">1</tspan></text>
<text y="650.6" font-family='"DejaVu Sans", "Liberation Sans", sans-serif' font-size="26.4" fill="#000"><tspan x="1460.6">2</tspan></text>
<text y="650.6" font-family='"DejaVu Sans", "Liberation Sans", sans-serif' font-size="26.4" fill="#000"><tspan x="1604.2">3</tspan></text>
<text y="650.6" font-family='"DejaVu Sans", "Liberation Sans", sans-serif' font-size="26.4" fill="#000"><tspan x="1747.8">4</tspan></text>
<text y="621" font-family='"DejaVu Sans", "Liberation Sans", sans-serif' font-size="26.3" fill="#000"><tspan x="1008.97">0</tspan></text>
<text y="511.38" font-family='"DejaVu Sans", "Liberation Sans", sans-serif' font-size="26.3" fill="#000"><tspan x="992.25">2</tspan><tspan x="1008.97">0</tspan></text>
<text y="401.76" font-family='"DejaVu Sans", "Liberation Sans", sans-serif' font-size="26.3" fill="#000"><tspan x="992.25">4</tspan><tspan x="1008.97">0</tspan></text>
<text y="292.14" font-family='"DejaVu Sans", "Liberation Sans", sans-serif' font-size="26.3" fill="#000"><tspan x="992.25">6</tspan><tspan x="1008.97">0</tspan></text>
<text y="182.52" font-family='"DejaVu Sans", "Liberation Sans", sans-serif' font-size="26.3" fill="#000"><tspan x="992.25">8</tspan><tspan x="1008.97">0</tspan></text>
<text y="72.9" font-family='"DejaVu Sans", "Liberation Sans", sans-serif' font-size="26.3" fill="#000"><tspan font-family="NanumGothic, &quot;DejaVu Sans&quot;, sans-serif" stroke="#000" stroke-width="0.022em" x="975.52">1</tspan><tspan x="992.25">0</tspan><tspan x="1008.97">0</tspan></text>
<line x1="1563.6" y1="88.2" x2="1636.4" y2="88.2" stroke="#e00000" stroke-width="3" stroke-linecap="round"/>
<line x1="1563.6" y1="127.2" x2="1636.4" y2="127.2" stroke="#0000d2" stroke-width="3" stroke-linecap="round"/>
<g fill="#fff" stroke="#e00000" stroke-width="1.8"><rect x="1592.65" y="81.05" width="14.3" height="14.3"/></g>
<g fill="#fff" stroke="#0000d2" stroke-width="1.8"><circle cx="1599.8" cy="127.2" r="8.2"/></g>
<text transform="translate(1646.55 99) scale(1.1364 1)" font-family='"DejaVu Sans", "Liberation Sans", sans-serif' font-size="28.6" fill="#000" xml:space="preserve">EFAC<tspan font-family="NanumGothic, &quot;DejaVu Sans&quot;, sans-serif" stroke="#000" stroke-width="0.022em">1</tspan></text>
<text transform="translate(1646.57 138.4) scale(1.1299 1)" font-family='"DejaVu Sans", "Liberation Sans", sans-serif' font-size="28.6" fill="#000" xml:space="preserve">EFAC2</text>
<text transform="translate(1312.42 693.6) scale(1.0517 1)" font-family='"DejaVu Sans", "Liberation Sans", sans-serif' font-size="35" fill="#000" xml:space="preserve">Log(f) (Hz)</text>
<text transform="translate(962.8 476.01) rotate(-90) scale(0.8996 1)" font-family='"DejaVu Sans", "Liberation Sans", sans-serif' font-size="38" fill="#000"  xml:space="preserve">- Phase angle</text>
<text transform="translate(962.85 234.4) rotate(-90) scale(1.0289 1)" font-family='"DejaVu Sans", "Liberation Sans", sans-serif' font-size="38.88" fill="#000" xml:space="preserve">(</text>
<text transform="translate(950.05 221.42) rotate(-90) scale(1.0000 1)" font-family='"DejaVu Sans", "Liberation Sans", sans-serif' font-size="21.29" fill="#000" xml:space="preserve">°</text>
<text transform="translate(962.85 212.89) rotate(-90) scale(0.9603 1)" font-family='"DejaVu Sans", "Liberation Sans", sans-serif' font-size="38.88" fill="#000" xml:space="preserve">)</text>
<text x="884.88" y="41.1" font-family='"Liberation Sans", "DejaVu Sans", sans-serif' font-size="52.5" text-anchor="start" fill="#000" font-weight="bold" >(</text>
<text x="906.82" y="44.5" font-family='"Liberation Sans", "DejaVu Sans", sans-serif' font-size="55" text-anchor="start" fill="#000" font-weight="bold" >b</text>
<text x="940.74" y="41.1" font-family='"Liberation Sans", "DejaVu Sans", sans-serif' font-size="52.5" text-anchor="start" fill="#000" font-weight="bold" >)</text>
<g clip-path="url(#cc)">
<path d="M257.31 964.5L257.59 964.9M271.46 985.93L272.44 987.47M285.34 1009.1L287.56 1013.1M299.45 1035.31L302.45 1041.19M313.52 1063.82L317.38 1072.08M327.98 1094.94L331.92 1103.46M342.47 1126.35L346.43 1134.95M357.48 1157.6L360.42 1163.3M372.56 1185.38L374.34 1188.42" fill="none" stroke="#e00000" stroke-width="2.8" stroke-linecap="round"/>
<g fill="#fff" stroke="#e00000" stroke-width="1.8"><rect x="141.6" y="839.8" width="14.2" height="14.2"/><rect x="156.1" y="853.4" width="14.2" height="14.2"/><rect x="170.6" y="866.6" width="14.2" height="14.2"/><rect x="185.1" y="881.3" width="14.2" height="14.2"/><rect x="199.6" y="895.7" width="14.2" height="14.2"/><rect x="214.1" y="911" width="14.2" height="14.2"/><rect x="228.6" y="928.7" width="14.2" height="14.2"/><rect x="243.1" y="947" width="14.2" height="14.2"/><rect x="257.6" y="968.2" width="14.2" height="14.2"/><rect x="272.1" y="991" width="14.2" height="14.2"/><rect x="286.6" y="1017" width="14.2" height="14.2"/><rect x="301.1" y="1045.3" width="14.2" height="14.2"/><rect x="315.6" y="1076.4" width="14.2" height="14.2"/><rect x="330.1" y="1107.8" width="14.2" height="14.2"/><rect x="344.6" y="1139.3" width="14.2" height="14.2"/><rect x="359.1" y="1167.4" width="14.2" height="14.2"/><rect x="373.6" y="1192.2" width="14.2" height="14.2"/><rect x="388.1" y="1212.8" width="14.2" height="14.2"/><rect x="402.6" y="1228.8" width="14.2" height="14.2"/><rect x="417.1" y="1241.1" width="14.2" height="14.2"/><rect x="431.6" y="1249.8" width="14.2" height="14.2"/><rect x="446.1" y="1256.5" width="14.2" height="14.2"/><rect x="460.6" y="1261" width="14.2" height="14.2"/><rect x="475.1" y="1264" width="14.2" height="14.2"/><rect x="489.6" y="1266.3" width="14.2" height="14.2"/><rect x="504.1" y="1267.9" width="14.2" height="14.2"/><rect x="518.6" y="1268.9" width="14.2" height="14.2"/><rect x="533.1" y="1269.7" width="14.2" height="14.2"/><rect x="547.6" y="1270.2" width="14.2" height="14.2"/><rect x="562.1" y="1270.2" width="14.2" height="14.2"/><rect x="576.6" y="1270.2" width="14.2" height="14.2"/><rect x="591.1" y="1270.2" width="14.2" height="14.2"/><rect x="605.6" y="1270.2" width="14.2" height="14.2"/><rect x="620.1" y="1270.2" width="14.2" height="14.2"/><rect x="634.6" y="1270.2" width="14.2" height="14.2"/><rect x="649.1" y="1270.2" width="14.2" height="14.2"/><rect x="663.6" y="1270.2" width="14.2" height="14.2"/><rect x="678.1" y="1270.2" width="14.2" height="14.2"/><rect x="692.6" y="1270.2" width="14.2" height="14.2"/><rect x="707.1" y="1270.2" width="14.2" height="14.2"/><rect x="721.6" y="1270.2" width="14.2" height="14.2"/><rect x="736.1" y="1270.2" width="14.2" height="14.2"/><rect x="750.6" y="1270.2" width="14.2" height="14.2"/><rect x="765.1" y="1270.2" width="14.2" height="14.2"/><rect x="779.6" y="1270.2" width="14.2" height="14.2"/><rect x="794.1" y="1270.2" width="14.2" height="14.2"/><rect x="808.6" y="1270.2" width="14.2" height="14.2"/><rect x="823.1" y="1270.2" width="14.2" height="14.2"/><rect x="837.6" y="1270.2" width="14.2" height="14.2"/></g>
<path d="M300.6 983.78L301.3 984.82M314.37 1005.64L316.53 1009.36M328.6 1030.79L331.3 1035.71M342.48 1057.61L346.42 1065.89M356.98 1088.11L360.92 1096.39M371.36 1118.67L375.54 1127.73M386.07 1149.97L389.83 1157.73M401.3 1179.48L403.6 1183.52M416.69 1204.32L417.21 1205.08" fill="none" stroke="#0000d2" stroke-width="2.8" stroke-linecap="round"/>
<g fill="#fff" stroke="#0000d2" stroke-width="1.8"><circle cx="148.7" cy="844" r="7.95"/><circle cx="163.2" cy="854" r="7.95"/><circle cx="177.7" cy="864.4" r="7.95"/><circle cx="192.2" cy="874.9" r="7.95"/><circle cx="206.7" cy="886.1" r="7.95"/><circle cx="221.2" cy="897.3" r="7.95"/><circle cx="235.7" cy="910.2" r="7.95"/><circle cx="250.2" cy="922.8" r="7.95"/><circle cx="264.7" cy="938.4" r="7.95"/><circle cx="279.2" cy="954.9" r="7.95"/><circle cx="293.7" cy="973.6" r="7.95"/><circle cx="308.2" cy="995" r="7.95"/><circle cx="322.7" cy="1020" r="7.95"/><circle cx="337.2" cy="1046.5" r="7.95"/><circle cx="351.7" cy="1077" r="7.95"/><circle cx="366.2" cy="1107.5" r="7.95"/><circle cx="380.7" cy="1138.9" r="7.95"/><circle cx="395.2" cy="1168.8" r="7.95"/><circle cx="409.7" cy="1194.2" r="7.95"/><circle cx="424.2" cy="1215.2" r="7.95"/><circle cx="438.7" cy="1232.5" r="7.95"/><circle cx="453.2" cy="1246.1" r="7.95"/><circle cx="467.7" cy="1255.3" r="7.95"/><circle cx="482.2" cy="1262.6" r="7.95"/><circle cx="496.7" cy="1267.5" r="7.95"/><circle cx="511.2" cy="1270.7" r="7.95"/><circle cx="525.7" cy="1272.8" r="7.95"/><circle cx="540.2" cy="1274.2" r="7.95"/><circle cx="554.7" cy="1275.2" r="7.95"/><circle cx="569.2" cy="1276.2" r="7.95"/><circle cx="583.7" cy="1276.6" r="7.95"/><circle cx="598.2" cy="1277" r="7.95"/><circle cx="612.7" cy="1277.2" r="7.95"/><circle cx="627.2" cy="1277.3" r="7.95"/><circle cx="641.7" cy="1277.3" r="7.95"/><circle cx="656.2" cy="1277.3" r="7.95"/><circle cx="670.7" cy="1277.3" r="7.95"/><circle cx="685.2" cy="1277.3" r="7.95"/><circle cx="699.7" cy="1277.3" r="7.95"/><circle cx="714.2" cy="1277.3" r="7.95"/><circle cx="728.7" cy="1277.3" r="7.95"/><circle cx="743.2" cy="1277.3" r="7.95"/><circle cx="757.7" cy="1277.3" r="7.95"/><circle cx="772.2" cy="1277.3" r="7.95"/><circle cx="786.7" cy="1277.3" r="7.95"/><circle cx="801.2" cy="1277.3" r="7.95"/><circle cx="815.7" cy="1277.3" r="7.95"/><circle cx="830.2" cy="1277.3" r="7.95"/><circle cx="844.7" cy="1277.3" r="7.95"/></g>
</g>
<!-- panel c -->
<line x1="134.8" y1="1286.6" x2="134.8" y2="1296.8" stroke="#000" stroke-width="1.9" />
<line x1="277.32" y1="1286.6" x2="277.32" y2="1296.8" stroke="#000" stroke-width="1.9" />
<line x1="419.84" y1="1286.6" x2="419.84" y2="1296.8" stroke="#000" stroke-width="1.9" />
<line x1="562.36" y1="1286.6" x2="562.36" y2="1296.8" stroke="#000" stroke-width="1.9" />
<line x1="704.88" y1="1286.6" x2="704.88" y2="1296.8" stroke="#000" stroke-width="1.9" />
<line x1="847.4" y1="1286.6" x2="847.4" y2="1296.8" stroke="#000" stroke-width="1.9" />
<line x1="206.06" y1="1286.6" x2="206.06" y2="1291.7" stroke="#000" stroke-width="1.9" />
<line x1="348.58" y1="1286.6" x2="348.58" y2="1291.7" stroke="#000" stroke-width="1.9" />
<line x1="491.1" y1="1286.6" x2="491.1" y2="1291.7" stroke="#000" stroke-width="1.9" />
<line x1="633.62" y1="1286.6" x2="633.62" y2="1291.7" stroke="#000" stroke-width="1.9" />
<line x1="776.14" y1="1286.6" x2="776.14" y2="1291.7" stroke="#000" stroke-width="1.9" />
<line x1="134.8" y1="1277.9" x2="123.4" y2="1277.9" stroke="#000" stroke-width="1.9" />
<line x1="134.8" y1="1189.1" x2="123.4" y2="1189.1" stroke="#000" stroke-width="1.9" />
<line x1="134.8" y1="1100.3" x2="123.4" y2="1100.3" stroke="#000" stroke-width="1.9" />
<line x1="134.8" y1="1011.5" x2="123.4" y2="1011.5" stroke="#000" stroke-width="1.9" />
<line x1="134.8" y1="922.7" x2="123.4" y2="922.7" stroke="#000" stroke-width="1.9" />
<line x1="134.8" y1="833.9" x2="123.4" y2="833.9" stroke="#000" stroke-width="1.9" />
<line x1="134.8" y1="745.1" x2="123.4" y2="745.1" stroke="#000" stroke-width="1.9" />
<line x1="134.8" y1="1233.5" x2="129.2" y2="1233.5" stroke="#000" stroke-width="1.9" />
<line x1="134.8" y1="1144.7" x2="129.2" y2="1144.7" stroke="#000" stroke-width="1.9" />
<line x1="134.8" y1="1055.9" x2="129.2" y2="1055.9" stroke="#000" stroke-width="1.9" />
<line x1="134.8" y1="967.1" x2="129.2" y2="967.1" stroke="#000" stroke-width="1.9" />
<line x1="134.8" y1="878.3" x2="129.2" y2="878.3" stroke="#000" stroke-width="1.9" />
<line x1="134.8" y1="789.5" x2="129.2" y2="789.5" stroke="#000" stroke-width="1.9" />
<rect x="134.8" y="745.1" width="712.6" height="541.5" fill="none" stroke="#000" stroke-width="2"/>
<text y="1325.3" font-family='"DejaVu Sans", "Liberation Sans", sans-serif' font-size="25.8" fill="#000"><tspan x="121.24">-</tspan><tspan font-family="NanumGothic, &quot;DejaVu Sans&quot;, sans-serif" stroke="#000" stroke-width="0.022em" x="130.55">1</tspan></text>
<text y="1325.3" font-family='"DejaVu Sans", "Liberation Sans", sans-serif' font-size="25.8" fill="#000"><tspan x="269.12">0</tspan></text>
<text y="1325.3" font-family='"DejaVu Sans", "Liberation Sans", sans-serif' font-size="25.8" fill="#000"><tspan font-family="NanumGothic, &quot;DejaVu Sans&quot;, sans-serif" stroke="#000" stroke-width="0.022em" x="411.64">1</tspan></text>
<text y="1325.3" font-family='"DejaVu Sans", "Liberation Sans", sans-serif' font-size="25.8" fill="#000"><tspan x="554.16">2</tspan></text>
<text y="1325.3" font-family='"DejaVu Sans", "Liberation Sans", sans-serif' font-size="25.8" fill="#000"><tspan x="696.68">3</tspan></text>
<text y="1325.3" font-family='"DejaVu Sans", "Liberation Sans", sans-serif' font-size="25.8" fill="#000"><tspan x="839.2">4</tspan></text>
<text y="1286.5" font-family='"DejaVu Sans", "Liberation Sans", sans-serif' font-size="26.8" fill="#000"><tspan x="72.29">0</tspan><tspan x="89.33">.</tspan><tspan x="97.86">0</tspan></text>
<text y="1197.7" font-family='"DejaVu Sans", "Liberation Sans", sans-serif' font-size="26.8" fill="#000"><tspan x="72.29">0</tspan><tspan x="89.33">.</tspan><tspan x="97.86">2</tspan></text>
<text y="1108.9" font-family='"DejaVu Sans", "Liberation Sans", sans-serif' font-size="26.8" fill="#000"><tspan x="72.29">0</tspan><tspan x="89.33">.</tspan><tspan x="97.86">4</tspan></text>
<text y="1020.1" font-family='"DejaVu Sans", "Liberation Sans", sans-serif' font-size="26.8" fill="#000"><tspan x="72.29">0</tspan><tspan x="89.33">.</tspan><tspan x="97.86">6</tspan></text>
<text y="931.3" font-family='"DejaVu Sans", "Liberation Sans", sans-serif' font-size="26.8" fill="#000"><tspan x="72.29">0</tspan><tspan x="89.33">.</tspan><tspan x="97.86">8</tspan></text>
<text y="842.5" font-family='"DejaVu Sans", "Liberation Sans", sans-serif' font-size="26.8" fill="#000"><tspan font-family="NanumGothic, &quot;DejaVu Sans&quot;, sans-serif" stroke="#000" stroke-width="0.022em" x="72.29">1</tspan><tspan x="89.33">.</tspan><tspan x="97.86">0</tspan></text>
<text y="753.7" font-family='"DejaVu Sans", "Liberation Sans", sans-serif' font-size="26.8" fill="#000"><tspan font-family="NanumGothic, &quot;DejaVu Sans&quot;, sans-serif" stroke="#000" stroke-width="0.022em" x="72.29">1</tspan><tspan x="89.33">.</tspan><tspan x="97.86">2</tspan></text>
<line x1="656" y1="770.5" x2="680" y2="770.5" stroke="#e00000" stroke-width="2.9" stroke-linecap="round"/>
<line x1="705" y1="770.5" x2="729" y2="770.5" stroke="#e00000" stroke-width="2.9" stroke-linecap="round"/>
<line x1="656" y1="808.6" x2="680" y2="808.6" stroke="#0000d2" stroke-width="2.9" stroke-linecap="round"/>
<line x1="705" y1="808.6" x2="729" y2="808.6" stroke="#0000d2" stroke-width="2.9" stroke-linecap="round"/>
<g fill="#fff" stroke="#e00000" stroke-width="1.8"><rect x="685.15" y="763.15" width="14.7" height="14.7"/></g>
<g fill="#fff" stroke="#0000d2" stroke-width="1.8"><circle cx="692.5" cy="808.6" r="8.2"/></g>
<text transform="translate(739.15 781.3) scale(1.1156 1)" font-family='"DejaVu Sans", "Liberation Sans", sans-serif' font-size="29.1" fill="#000" xml:space="preserve">EFAC<tspan font-family="NanumGothic, &quot;DejaVu Sans&quot;, sans-serif" stroke="#000" stroke-width="0.022em">1</tspan></text>
<text transform="translate(739.17 819.3) scale(1.1105 1)" font-family='"DejaVu Sans", "Liberation Sans", sans-serif' font-size="29.1" fill="#000" xml:space="preserve">EFAC2</text>
<text transform="translate(413.02 1373.9) scale(1.0746 1)" font-family='"DejaVu Sans", "Liberation Sans", sans-serif' font-size="34.2" fill="#000" xml:space="preserve">Log(f) (Hz)</text>
<text transform="translate(40.4 1150.43) rotate(-90) scale(0.9477 1)" font-family='"DejaVu Sans", "Liberation Sans", sans-serif' font-size="37.2" fill="#000"  xml:space="preserve">Normalized</text>
<text transform="translate(40.43 938.23) rotate(-90) scale(0.9166 1)" font-family='"DejaVu Sans", "Liberation Sans", sans-serif' font-size="38.28" fill="#000" xml:space="preserve">C</text>
<text transform="translate(37.5 915.3) rotate(-90) scale(1.1020 1)" font-family='"DejaVu Sans", "Liberation Sans", sans-serif' font-size="36.3" fill="#000" xml:space="preserve">'</text>
<text transform="translate(41.06 894.32) rotate(-90) scale(0.8990 1)" font-family='"DejaVu Sans", "Liberation Sans", sans-serif' font-size="39.55" fill="#000" xml:space="preserve">(</text>
<text transform="translate(40.59 882.05) rotate(-90) scale(0.8961 1)" font-family='"DejaVu Sans", "Liberation Sans", sans-serif' font-size="37.38" fill="#000" xml:space="preserve">F</text>
<text transform="translate(41.06 864.78) rotate(-90) scale(0.9102 1)" font-family='"DejaVu Sans", "Liberation Sans", sans-serif' font-size="39.55" fill="#000" xml:space="preserve">)</text>
<text x="23.88" y="697.9" font-family='"Liberation Sans", "DejaVu Sans", sans-serif' font-size="52.5" text-anchor="start" fill="#000" font-weight="bold" >(</text>
<text x="42.9" y="701.3" font-family='"Liberation Sans", "DejaVu Sans", sans-serif' font-size="55" text-anchor="start" fill="#000" font-weight="bold" >c</text>
<text x="72.54" y="697.9" font-family='"Liberation Sans", "DejaVu Sans", sans-serif' font-size="52.5" text-anchor="start" fill="#000" font-weight="bold" >)</text>
<g clip-path="url(#cd)">
<polyline fill="none" stroke="#e00000" stroke-width="3" stroke-linejoin="round"  points="1054.7,1055.9 1069.35,1050.8 1084,1044.7 1098.65,1037 1113.3,1027 1127.95,1014.8 1142.6,1000.5 1157.25,984.3 1171.9,967.4 1186.55,951.1 1201.2,935.8 1215.85,924.6 1230.5,921.6 1245.15,924.6 1259.8,939.9 1274.45,962.7 1289.1,993.8 1303.75,1028.4 1318.4,1063.4 1333.05,1096.4 1347.7,1127.2 1362.35,1153.9 1377,1176.7 1391.65,1196 1406.3,1211.7 1420.95,1224.9 1435.6,1235.3 1450.25,1243.9 1464.9,1251 1479.55,1256.5 1494.2,1260.7 1508.85,1264.4 1523.5,1267.3 1538.15,1269.7 1552.8,1271.5 1567.45,1273 1582.1,1274.2 1596.75,1275.2 1611.4,1276 1626.05,1276.6 1640.7,1277 1655.35,1277.4 1670,1277.7 1684.65,1277.9 1699.3,1278 1713.95,1278 1728.6,1278 1743.25,1278 1757.9,1278"/>
<g fill="#fff" stroke="#e00000" stroke-width="1.9"><rect x="1047.4" y="1048.6" width="14.6" height="14.6"/><rect x="1062.05" y="1043.5" width="14.6" height="14.6"/><rect x="1076.7" y="1037.4" width="14.6" height="14.6"/><rect x="1091.35" y="1029.7" width="14.6" height="14.6"/><rect x="1106" y="1019.7" width="14.6" height="14.6"/><rect x="1120.65" y="1007.5" width="14.6" height="14.6"/><rect x="1135.3" y="993.2" width="14.6" height="14.6"/><rect x="1149.95" y="977" width="14.6" height="14.6"/><rect x="1164.6" y="960.1" width="14.6" height="14.6"/><rect x="1179.25" y="943.8" width="14.6" height="14.6"/><rect x="1193.9" y="928.5" width="14.6" height="14.6"/><rect x="1208.55" y="917.3" width="14.6" height="14.6"/><rect x="1223.2" y="914.3" width="14.6" height="14.6"/><rect x="1237.85" y="917.3" width="14.6" height="14.6"/><rect x="1252.5" y="932.6" width="14.6" height="14.6"/><rect x="1267.15" y="955.4" width="14.6" height="14.6"/><rect x="1281.8" y="986.5" width="14.6" height="14.6"/><rect x="1296.45" y="1021.1" width="14.6" height="14.6"/><rect x="1311.1" y="1056.1" width="14.6" height="14.6"/><rect x="1325.75" y="1089.1" width="14.6" height="14.6"/><rect x="1340.4" y="1119.9" width="14.6" height="14.6"/><rect x="1355.05" y="1146.6" width="14.6" height="14.6"/><rect x="1369.7" y="1169.4" width="14.6" height="14.6"/><rect x="1384.35" y="1188.7" width="14.6" height="14.6"/><rect x="1399" y="1204.4" width="14.6" height="14.6"/><rect x="1413.65" y="1217.6" width="14.6" height="14.6"/><rect x="1428.3" y="1228" width="14.6" height="14.6"/><rect x="1442.95" y="1236.6" width="14.6" height="14.6"/><rect x="1457.6" y="1243.7" width="14.6" height="14.6"/><rect x="1472.25" y="1249.2" width="14.6" height="14.6"/><rect x="1486.9" y="1253.4" width="14.6" height="14.6"/><rect x="1501.55" y="1257.1" width="14.6" height="14.6"/><rect x="1516.2" y="1260" width="14.6" height="14.6"/><rect x="1530.85" y="1262.4" width="14.6" height="14.6"/><rect x="1545.5" y="1264.2" width="14.6" height="14.6"/><rect x="1560.15" y="1265.7" width="14.6" height="14.6"/><rect x="1574.8" y="1266.9" width="14.6" height="14.6"/><rect x="1589.45" y="1267.9" width="14.6" height="14.6"/><rect x="1604.1" y="1268.7" width="14.6" height="14.6"/><rect x="1618.75" y="1269.3" width="14.6" height="14.6"/><rect x="1633.4" y="1269.7" width="14.6" height="14.6"/><rect x="1648.05" y="1270.1" width="14.6" height="14.6"/><rect x="1662.7" y="1270.4" width="14.6" height="14.6"/><rect x="1677.35" y="1270.6" width="14.6" height="14.6"/><rect x="1692" y="1270.7" width="14.6" height="14.6"/><rect x="1706.65" y="1270.7" width="14.6" height="14.6"/><rect x="1721.3" y="1270.7" width="14.6" height="14.6"/><rect x="1735.95" y="1270.7" width="14.6" height="14.6"/><rect x="1750.6" y="1270.7" width="14.6" height="14.6"/></g>
<polyline fill="none" stroke="#0000d2" stroke-width="3" stroke-linejoin="round"  points="1054.7,1089.1 1069.35,1087.4 1084,1084 1098.65,1078.3 1113.3,1070.7 1127.95,1062 1142.6,1050.8 1157.25,1037 1171.9,1020.9 1186.55,1003.4 1201.2,983.6 1215.85,964.3 1230.5,945.4 1245.15,930.1 1259.8,922 1274.45,923 1289.1,933.8 1303.75,955.2 1318.4,985.1 1333.05,1017.2 1347.7,1052.7 1362.35,1086.7 1377,1118.3 1391.65,1146.2 1406.3,1170.6 1420.95,1190.9 1435.6,1207.6 1450.25,1221.5 1464.9,1232.7 1479.55,1241.8 1494.2,1248.9 1508.85,1255 1523.5,1259.7 1538.15,1263.6 1552.8,1266.6 1567.45,1268.9 1582.1,1270.7 1596.75,1272.3 1611.4,1273.4 1626.05,1274.4 1640.7,1275.2 1655.35,1275.8 1670,1276.2 1684.65,1276.6 1699.3,1276.9 1713.95,1277.1 1728.6,1277.3 1743.25,1277.4 1757.9,1277.4"/>
<g fill="#fff" stroke="#0000d2" stroke-width="1.9"><circle cx="1054.7" cy="1089.1" r="8.15"/><circle cx="1069.35" cy="1087.4" r="8.15"/><circle cx="1084" cy="1084" r="8.15"/><circle cx="1098.65" cy="1078.3" r="8.15"/><circle cx="1113.3" cy="1070.7" r="8.15"/><circle cx="1127.95" cy="1062" r="8.15"/><circle cx="1142.6" cy="1050.8" r="8.15"/><circle cx="1157.25" cy="1037" r="8.15"/><circle cx="1171.9" cy="1020.9" r="8.15"/><circle cx="1186.55" cy="1003.4" r="8.15"/><circle cx="1201.2" cy="983.6" r="8.15"/><circle cx="1215.85" cy="964.3" r="8.15"/><circle cx="1230.5" cy="945.4" r="8.15"/><circle cx="1245.15" cy="930.1" r="8.15"/><circle cx="1259.8" cy="922" r="8.15"/><circle cx="1274.45" cy="923" r="8.15"/><circle cx="1289.1" cy="933.8" r="8.15"/><circle cx="1303.75" cy="955.2" r="8.15"/><circle cx="1318.4" cy="985.1" r="8.15"/><circle cx="1333.05" cy="1017.2" r="8.15"/><circle cx="1347.7" cy="1052.7" r="8.15"/><circle cx="1362.35" cy="1086.7" r="8.15"/><circle cx="1377" cy="1118.3" r="8.15"/><circle cx="1391.65" cy="1146.2" r="8.15"/><circle cx="1406.3" cy="1170.6" r="8.15"/><circle cx="1420.95" cy="1190.9" r="8.15"/><circle cx="1435.6" cy="1207.6" r="8.15"/><circle cx="1450.25" cy="1221.5" r="8.15"/><circle cx="1464.9" cy="1232.7" r="8.15"/><circle cx="1479.55" cy="1241.8" r="8.15"/><circle cx="1494.2" cy="1248.9" r="8.15"/><circle cx="1508.85" cy="1255" r="8.15"/><circle cx="1523.5" cy="1259.7" r="8.15"/><circle cx="1538.15" cy="1263.6" r="8.15"/><circle cx="1552.8" cy="1266.6" r="8.15"/><circle cx="1567.45" cy="1268.9" r="8.15"/><circle cx="1582.1" cy="1270.7" r="8.15"/><circle cx="1596.75" cy="1272.3" r="8.15"/><circle cx="1611.4" cy="1273.4" r="8.15"/><circle cx="1626.05" cy="1274.4" r="8.15"/><circle cx="1640.7" cy="1275.2" r="8.15"/><circle cx="1655.35" cy="1275.8" r="8.15"/><circle cx="1670" cy="1276.2" r="8.15"/><circle cx="1684.65" cy="1276.6" r="8.15"/><circle cx="1699.3" cy="1276.9" r="8.15"/><circle cx="1713.95" cy="1277.1" r="8.15"/><circle cx="1728.6" cy="1277.3" r="8.15"/><circle cx="1743.25" cy="1277.4" r="8.15"/><circle cx="1757.9" cy="1277.4" r="8.15"/></g>
</g>
<!-- panel d -->
<line x1="1040.2" y1="1288.8" x2="1040.2" y2="1299" stroke="#000" stroke-width="1.9" />
<line x1="1184.18" y1="1288.8" x2="1184.18" y2="1299" stroke="#000" stroke-width="1.9" />
<line x1="1328.16" y1="1288.8" x2="1328.16" y2="1299" stroke="#000" stroke-width="1.9" />
<line x1="1472.14" y1="1288.8" x2="1472.14" y2="1299" stroke="#000" stroke-width="1.9" />
<line x1="1616.12" y1="1288.8" x2="1616.12" y2="1299" stroke="#000" stroke-width="1.9" />
<line x1="1760.1" y1="1288.8" x2="1760.1" y2="1299" stroke="#000" stroke-width="1.9" />
<line x1="1112.19" y1="1288.8" x2="1112.19" y2="1293.9" stroke="#000" stroke-width="1.9" />
<line x1="1256.17" y1="1288.8" x2="1256.17" y2="1293.9" stroke="#000" stroke-width="1.9" />
<line x1="1400.15" y1="1288.8" x2="1400.15" y2="1293.9" stroke="#000" stroke-width="1.9" />
<line x1="1544.13" y1="1288.8" x2="1544.13" y2="1293.9" stroke="#000" stroke-width="1.9" />
<line x1="1688.11" y1="1288.8" x2="1688.11" y2="1293.9" stroke="#000" stroke-width="1.9" />
<line x1="1040.2" y1="1277.8" x2="1028.8" y2="1277.8" stroke="#000" stroke-width="1.9" />
<line x1="1040.2" y1="1099.84" x2="1028.8" y2="1099.84" stroke="#000" stroke-width="1.9" />
<line x1="1040.2" y1="921.87" x2="1028.8" y2="921.87" stroke="#000" stroke-width="1.9" />
<line x1="1040.2" y1="743.9" x2="1028.8" y2="743.9" stroke="#000" stroke-width="1.9" />
<line x1="1040.2" y1="1188.82" x2="1034.3" y2="1188.82" stroke="#000" stroke-width="1.9" />
<line x1="1040.2" y1="1010.85" x2="1034.3" y2="1010.85" stroke="#000" stroke-width="1.9" />
<line x1="1040.2" y1="832.89" x2="1034.3" y2="832.89" stroke="#000" stroke-width="1.9" />
<rect x="1040.2" y="743.9" width="719.9" height="544.9" fill="none" stroke="#000" stroke-width="2"/>
<text y="1327.5" font-family='"DejaVu Sans", "Liberation Sans", sans-serif' font-size="26.2" fill="#000"><tspan x="1026.44">-</tspan><tspan font-family="NanumGothic, &quot;DejaVu Sans&quot;, sans-serif" stroke="#000" stroke-width="0.022em" x="1035.9">1</tspan></text>
<text y="1327.5" font-family='"DejaVu Sans", "Liberation Sans", sans-serif' font-size="26.2" fill="#000"><tspan x="1175.85">0</tspan></text>
<text y="1327.5" font-family='"DejaVu Sans", "Liberation Sans", sans-serif' font-size="26.2" fill="#000"><tspan font-family="NanumGothic, &quot;DejaVu Sans&quot;, sans-serif" stroke="#000" stroke-width="0.022em" x="1319.83">1</tspan></text>
<text y="1327.5" font-family='"DejaVu Sans", "Liberation Sans", sans-serif' font-size="26.2" fill="#000"><tspan x="1463.81">2</tspan></text>
<text y="1327.5" font-family='"DejaVu Sans", "Liberation Sans", sans-serif' font-size="26.2" fill="#000"><tspan x="1607.79">3</tspan></text>
<text y="1327.5" font-family='"DejaVu Sans", "Liberation Sans", sans-serif' font-size="26.2" fill="#000"><tspan x="1751.77">4</tspan></text>
<text y="1286.3" font-family='"DejaVu Sans", "Liberation Sans", sans-serif' font-size="27" fill="#000"><tspan x="977.57">0</tspan><tspan x="994.74">.</tspan><tspan x="1003.33">0</tspan></text>
<text y="1108.34" font-family='"DejaVu Sans", "Liberation Sans", sans-serif' font-size="27" fill="#000"><tspan x="977.57">0</tspan><tspan x="994.74">.</tspan><tspan x="1003.33">5</tspan></text>
<text y="930.37" font-family='"DejaVu Sans", "Liberation Sans", sans-serif' font-size="27" fill="#000"><tspan font-family="NanumGothic, &quot;DejaVu Sans&quot;, sans-serif" stroke="#000" stroke-width="0.022em" x="977.57">1</tspan><tspan x="994.74">.</tspan><tspan x="1003.33">0</tspan></text>
<text y="752.4" font-family='"DejaVu Sans", "Liberation Sans", sans-serif' font-size="27" fill="#000"><tspan font-family="NanumGothic, &quot;DejaVu Sans&quot;, sans-serif" stroke="#000" stroke-width="0.022em" x="977.57">1</tspan><tspan x="994.74">.</tspan><tspan x="1003.33">5</tspan></text>
<line x1="1564.6" y1="768.6" x2="1638.4" y2="768.6" stroke="#e00000" stroke-width="3" stroke-linecap="round"/>
<line x1="1564.6" y1="807.3" x2="1638.4" y2="807.3" stroke="#0000d2" stroke-width="3" stroke-linecap="round"/>
<g fill="#fff" stroke="#e00000" stroke-width="1.8"><rect x="1593.95" y="761.25" width="14.7" height="14.7"/></g>
<g fill="#fff" stroke="#0000d2" stroke-width="1.8"><circle cx="1601.3" cy="807.3" r="8.5"/></g>
<text transform="translate(1648.2 779.4) scale(1.1355 1)" font-family='"DejaVu Sans", "Liberation Sans", sans-serif' font-size="29.1" fill="#000" xml:space="preserve">EFAC<tspan font-family="NanumGothic, &quot;DejaVu Sans&quot;, sans-serif" stroke="#000" stroke-width="0.022em">1</tspan></text>
<text transform="translate(1648.21 818.4) scale(1.1294 1)" font-family='"DejaVu Sans", "Liberation Sans", sans-serif' font-size="29.1" fill="#000" xml:space="preserve">EFAC2</text>
<text transform="translate(1301.46 1371.9) scale(1.0377 1)" font-family='"DejaVu Sans", "Liberation Sans", sans-serif' font-size="36" fill="#000" xml:space="preserve">Log(f) (Hz)</text>
<text transform="translate(956 1154.79) rotate(-90) scale(0.9510 1)" font-family='"DejaVu Sans", "Liberation Sans", sans-serif' font-size="37.8" fill="#000"  xml:space="preserve">Normalized</text>
<text transform="translate(956.52 941.79) rotate(-90) scale(0.9271 1)" font-family='"DejaVu Sans", "Liberation Sans", sans-serif' font-size="38.94" fill="#000" xml:space="preserve">C</text>
<text transform="translate(954.62 916.52) rotate(-90) scale(0.7428 1)" font-family='"DejaVu Sans", "Liberation Sans", sans-serif' font-size="38.52" fill="#000" xml:space="preserve">''</text>
<text transform="translate(957.16 889.26) rotate(-90) scale(0.9102 1)" font-family='"DejaVu Sans", "Liberation Sans", sans-serif' font-size="39.55" fill="#000" xml:space="preserve">(</text>
<text transform="translate(956.49 876.85) rotate(-90) scale(0.8830 1)" font-family='"DejaVu Sans", "Liberation Sans", sans-serif' font-size="37.93" fill="#000" xml:space="preserve">F</text>
<text transform="translate(957.16 860.36) rotate(-90) scale(0.9664 1)" font-family='"DejaVu Sans", "Liberation Sans", sans-serif' font-size="39.55" fill="#000" xml:space="preserve">)</text>
<text x="884.88" y="697.5" font-family='"Liberation Sans", "DejaVu Sans", sans-serif' font-size="52.5" text-anchor="start" fill="#000" font-weight="bold" >(</text>
<text x="903.9" y="700.9" font-family='"Liberation Sans", "DejaVu Sans", sans-serif' font-size="55" text-anchor="start" fill="#000" font-weight="bold" >d</text>
<text x="940.24" y="697.5" font-family='"Liberation Sans", "DejaVu Sans", sans-serif' font-size="52.5" text-anchor="start" fill="#000" font-weight="bold" >)</text>
<text transform="translate(1083.45 865.45) scale(1.2179 1)" font-family='"Liberation Serif", "DejaVu Serif", serif' font-size="24.52" fill="#e00000" xml:space="preserve">τ</text>
<text transform="translate(1095.66 872.83) scale(1.0476 1)" font-family='"DejaVu Sans", "Liberation Sans", sans-serif' font-size="18.15" fill="#e00000" xml:space="preserve">0</text>
<text transform="translate(1114.13 866.37) scale(0.9520 1)" font-family='"DejaVu Sans", "Liberation Sans", sans-serif' font-size="25.71" fill="#e00000" xml:space="preserve">=</text>
<text transform="translate(1141.84 865.64) scale(1.1173 1)" font-family='"DejaVu Sans", "Liberation Sans", sans-serif' font-size="24.24" fill="#e00000" xml:space="preserve">0.479</text>
<text transform="translate(1228.75 865.64) scale(1.0316 1)" font-family='"DejaVu Sans", "Liberation Sans", sans-serif' font-size="23.83" fill="#e00000" xml:space="preserve">s</text>
<text transform="translate(1275.05 861.45) scale(1.2294 1)" font-family='"Liberation Serif", "DejaVu Serif", serif' font-size="24.52" fill="#0000d2" xml:space="preserve">τ</text>
<text transform="translate(1287.86 868.34) scale(1.0791 1)" font-family='"DejaVu Sans", "Liberation Sans", sans-serif' font-size="17.62" fill="#0000d2" xml:space="preserve">0</text>
<text transform="translate(1306.33 862.21) scale(0.9654 1)" font-family='"DejaVu Sans", "Liberation Sans", sans-serif' font-size="25.36" fill="#0000d2" xml:space="preserve">=</text>
<text transform="translate(1334.05 861.63) scale(1.1023 1)" font-family='"DejaVu Sans", "Liberation Sans", sans-serif' font-size="24.37" fill="#0000d2" xml:space="preserve">0.295</text>
<text transform="translate(1420.95 861.64) scale(1.0241 1)" font-family='"DejaVu Sans", "Liberation Sans", sans-serif' font-size="24" fill="#0000d2" xml:space="preserve">s</text>
<line x1="1220.2" y1="877.5" x2="1229.92" y2="897.06" stroke="#000" stroke-width="1.1" />
<polygon points="1235.7,908.7 1225.89,897.94 1233.05,894.38" fill="#000"/>
<line x1="1295.9" y1="877.5" x2="1278.02" y2="900.79" stroke="#000" stroke-width="1.1" />
<polygon points="1270.1,911.1 1275.45,897.56 1281.8,902.43" fill="#000"/>
</svg>
</body></html>
